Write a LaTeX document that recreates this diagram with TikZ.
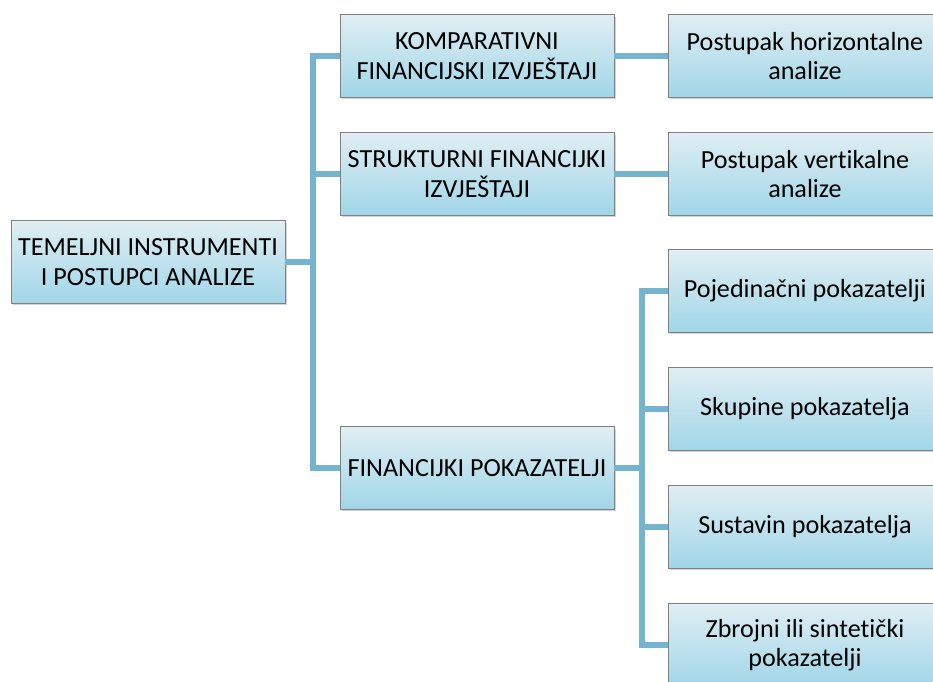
\documentclass[tikz,border=0pt]{standalone}
\usepackage{fontspec}
\setmainfont{Carlito}[Ligatures=NoCommon]
\usetikzlibrary{shadows}
\definecolor{boxtop}{RGB}{224,238,243}
\definecolor{boxbot}{RGB}{160,214,232}
\definecolor{linkblue}{RGB}{116,180,206}
\begin{document}
\begin{tikzpicture}[x=0.75pt, y=-0.75pt,
    box/.style={draw=black!50, thin, top color=boxtop, bottom color=boxbot,
      drop shadow={opacity=0.35, shadow xshift=1.5pt, shadow yshift=-1.5pt},
      minimum width=205.5pt, minimum height=62pt, inner sep=1pt,
      align=center, font=\fontsize{19.6}{22}\selectfont},
    link/.style={draw=linkblue, line width=3.8pt}]
  \useasboundingbox (0,0) rectangle (933,682);
  \clip (0,0) rectangle (933,682);
  \node (root) at (148,262) [box] {TEMELJNI INSTRUMENTI\\I POSTUPCI ANALIZE};
  \node (komp) at (477,56)  [box] {KOMPARATIVNI\\FINANCIJSKI IZVJEŠTAJI};
  \node (strk) at (477,174) [box] {STRUKTURNI FINANCIJKI\\IZVJEŠTAJI};
  \node (fpok) at (477,468) [box] {FINANCIJKI POKAZATELJI};
  \node (horz) at (805,56)  [box] {Postupak horizontalne\\analize};
  \node (vert) at (805,174) [box] {Postupak vertikalne\\analize};
  \node (poje) at (805,291) [box] {Pojedinačni pokazatelji};
  \node (skup) at (805,409) [box] {Skupine pokazatelja};
  \node (sust) at (805,527) [box] {Sustavin pokazatelja};
  \node (zbro) at (805,645) [box] {Zbrojni ili sintetički\\pokazatelji};
  \coordinate (t1) at (313,262);
  \coordinate (t2) at (642,468);
  \draw[link] (root) -- (t1) |- (komp)
              (t1) |- (strk)
              (t1) |- (fpok);
  \draw[link] (komp) -- (horz)
              (strk) -- (vert);
  \draw[link] (fpok) -- (t2) |- (poje)
              (t2) |- (skup)
              (t2) |- (sust)
              (t2) |- (zbro);
\end{tikzpicture}
\end{document}
